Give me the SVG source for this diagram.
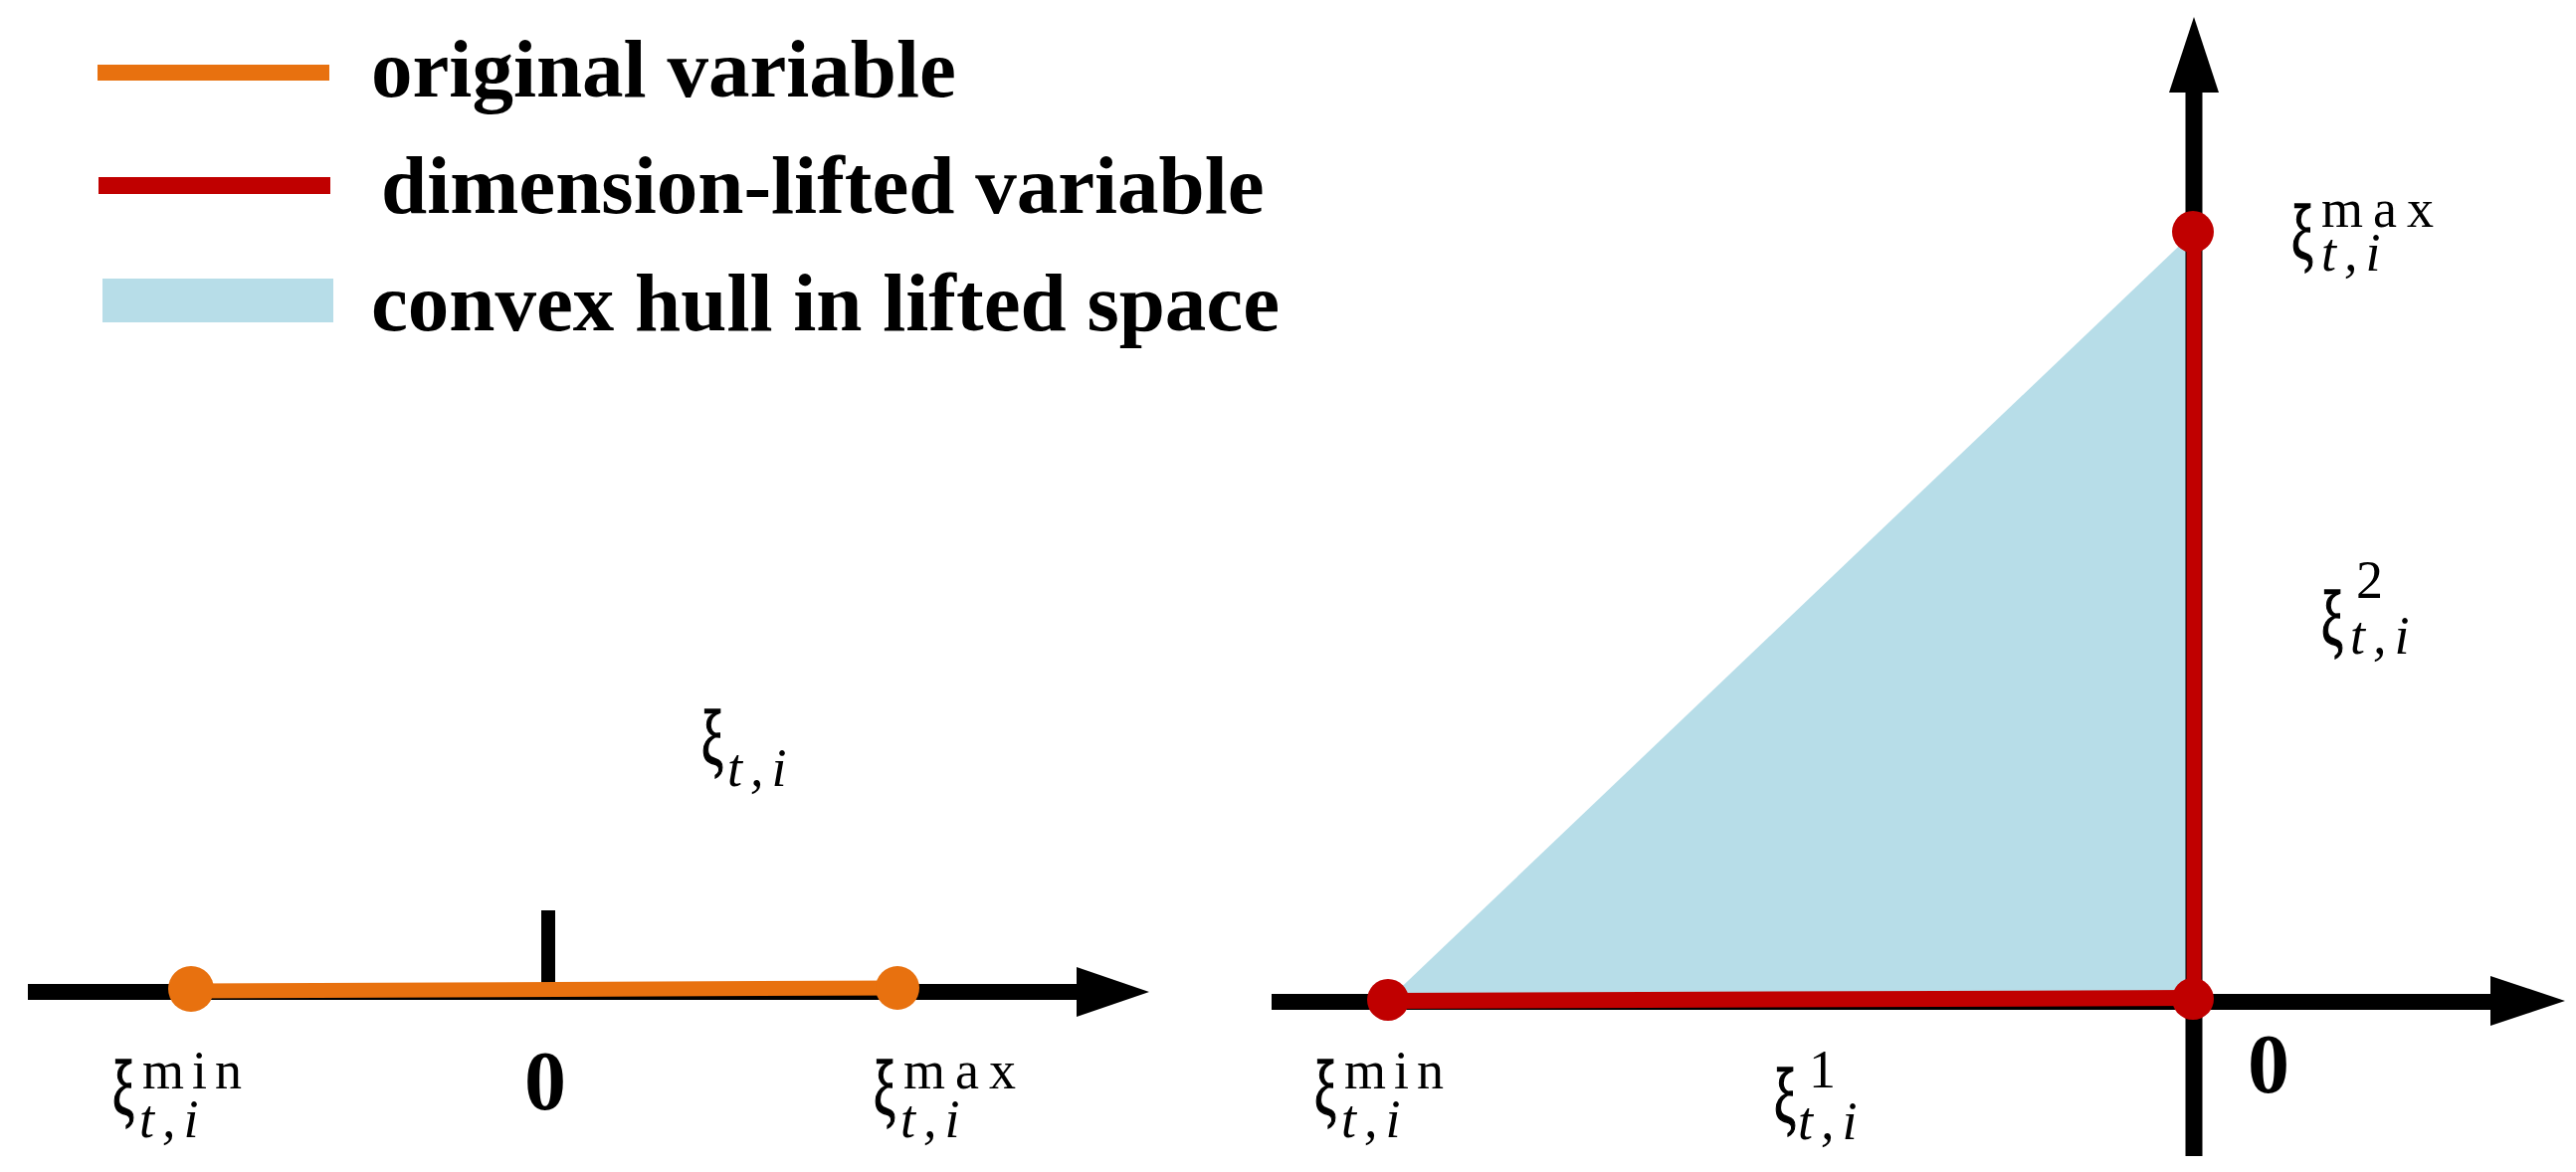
<svg xmlns="http://www.w3.org/2000/svg" width="2589" height="1178" viewBox="0 0 2589 1178">
<style>
.leg{font-family:"Liberation Serif","Times New Roman",serif;font-weight:bold;font-size:83px;fill:#000}
.lab{font-family:"Liberation Serif","Times New Roman",serif;font-size:54px;fill:#000}
.xi{font-size:78px;stroke:#000;stroke-width:1.6px}
.it{font-style:italic;letter-spacing:8px}
.zero{font-family:"Liberation Serif","Times New Roman",serif;font-weight:bold;font-size:84px;fill:#000}
.ax{stroke:#000;fill:none}
.org{stroke:#E8710F;fill:none}
.red{stroke:#C00000;fill:none}
</style>
<rect width="2589" height="1178" fill="#fff"/>

<g id="legend">
  <line x1="98" y1="73" x2="331" y2="73" class="org" stroke-width="16"/>
  <text class="leg" x="373" y="97">original variable</text>
  <line x1="99" y1="186.5" x2="332" y2="186.5" class="red" stroke-width="17"/>
  <text class="leg" x="383" y="214">dimension-lifted variable</text>
  <rect x="103" y="280" width="232" height="44" fill="#B7DDE8"/>
  <text class="leg" x="373" y="332">convex hull in lifted space</text>
</g>

<g id="hull">
  <polygon points="1395,1005 2205,233 2205,1005" fill="#B7DDE8"/>
</g>

<g id="connectors">
  <line x1="28" y1="997" x2="1086" y2="997" class="ax" stroke-width="16"/>
  <polygon points="1082,972 1155,997 1082,1022" fill="#000"/>
  <line x1="551" y1="915" x2="551" y2="992" class="ax" stroke-width="14"/>
  <line x1="192" y1="996" x2="902" y2="993" class="org" stroke-width="15"/>

  <line x1="1278" y1="1007" x2="2506" y2="1007" class="ax" stroke-width="16"/>
  <polygon points="2503,981 2578,1006 2503,1031" fill="#000"/>
  <line x1="2205" y1="1162" x2="2205" y2="90" class="ax" stroke-width="17"/>
  <polygon points="2180,93 2205,17 2230,93" fill="#000"/>
  <line x1="2205" y1="233" x2="2205" y2="1004" class="red" stroke-width="15"/>
  <line x1="1395" y1="1006" x2="2203" y2="1003" class="red" stroke-width="16"/>
</g>

<g id="points">
  <circle cx="192" cy="994" r="23" fill="#E8710F"/>
  <circle cx="902" cy="993" r="22" fill="#E8710F"/>
  <circle cx="1395" cy="1005" r="21" fill="#C00000"/>
  <circle cx="2204" cy="1004" r="21" fill="#C00000"/>
  <circle cx="2204" cy="233" r="21" fill="#C00000"/>
</g>

<g id="label-left-xi">
  <text class="lab"><tspan class="xi" x="705" y="768" textLength="22" lengthAdjust="spacingAndGlyphs">ξ</tspan><tspan class="it" x="731" y="790">t,i</tspan></text>
</g>
<g id="label-left-min">
  <text class="lab"><tspan class="xi" x="113" y="1120" textLength="22" lengthAdjust="spacingAndGlyphs">ξ</tspan><tspan x="143" y="1094" letter-spacing="8">min</tspan><tspan class="it" x="140" y="1143">t,i</tspan></text>
</g>
<g id="label-left-zero">
  <text class="zero" x="548" y="1115" text-anchor="middle">0</text>
</g>
<g id="label-left-max">
  <text class="lab"><tspan class="xi" x="878" y="1120" textLength="22" lengthAdjust="spacingAndGlyphs">ξ</tspan><tspan x="908" y="1094" letter-spacing="10">max</tspan><tspan class="it" x="905" y="1143">t,i</tspan></text>
</g>

<g id="label-right-max">
  <text class="lab"><tspan class="xi" x="2303" y="260" textLength="22" lengthAdjust="spacingAndGlyphs">ξ</tspan><tspan x="2333" y="228" letter-spacing="10">max</tspan><tspan class="it" x="2333" y="272">t,i</tspan></text>
</g>
<g id="label-right-xi2">
  <text class="lab"><tspan class="xi" x="2333" y="648" textLength="22" lengthAdjust="spacingAndGlyphs">ξ</tspan><tspan x="2368" y="601">2</tspan><tspan class="it" x="2362" y="657">t,i</tspan></text>
</g>
<g id="label-right-min">
  <text class="lab"><tspan class="xi" x="1321" y="1120" textLength="22" lengthAdjust="spacingAndGlyphs">ξ</tspan><tspan x="1351" y="1094" letter-spacing="8">min</tspan><tspan class="it" x="1348" y="1143">t,i</tspan></text>
</g>
<g id="label-right-xi1">
  <text class="lab"><tspan class="xi" x="1783" y="1128" textLength="22" lengthAdjust="spacingAndGlyphs">ξ</tspan><tspan x="1818" y="1093">1</tspan><tspan class="it" x="1807" y="1145">t,i</tspan></text>
</g>
<g id="label-right-zero">
  <text class="zero" x="2280" y="1098" text-anchor="middle">0</text>
</g>
</svg>
